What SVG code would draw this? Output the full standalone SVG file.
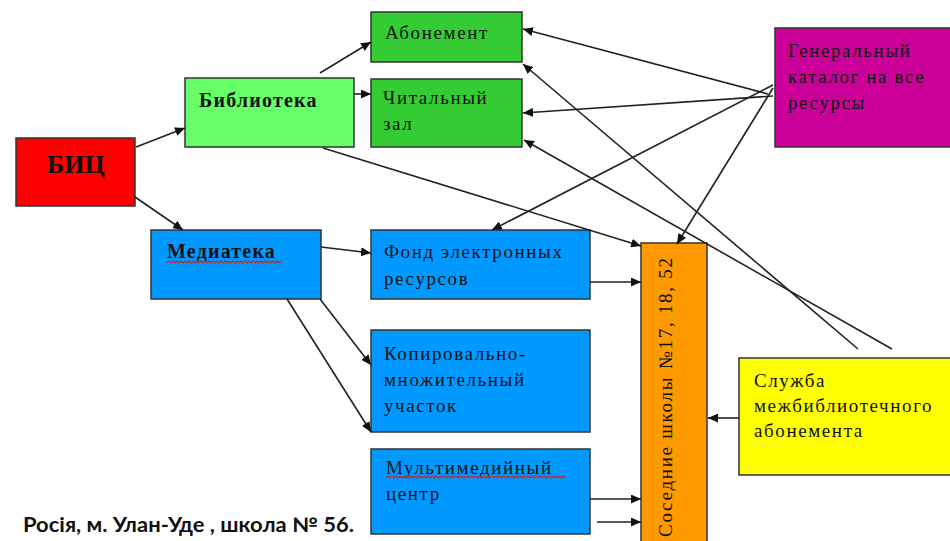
<svg xmlns="http://www.w3.org/2000/svg" width="950" height="541" viewBox="0 0 950 541">
<defs>
<marker id="ah" markerUnits="userSpaceOnUse" markerWidth="11" markerHeight="9" refX="10" refY="4.5" orient="auto">
<path d="M0,0 L10,4.5 L0,9 Z" fill="#111"/>
</marker>
<style>
.box{stroke:#333;stroke-width:1.5}
.t{font-family:"Liberation Serif","Times New Roman",serif;font-size:19px;letter-spacing:1.6px;fill:#111}
.b{font-family:"Liberation Serif","Times New Roman",serif;font-size:20px;font-weight:bold;letter-spacing:1.2px;fill:#111}
.c line{stroke:#222;stroke-width:1.6;marker-end:url(#ah)}
.sq{fill:none;stroke:#d42020;stroke-width:1.2}
</style>
</defs>
<rect width="950" height="541" fill="#fff"/>

<g id="bic"><rect class="box" x="16" y="138" width="119" height="68" fill="#ff0000" stroke="#6a9"/><text x="47" y="173" style="font-family:'Liberation Serif',serif;font-size:26px;font-weight:bold;fill:#111">БИЦ</text></g>

<g id="biblioteka"><rect class="box" x="185" y="78" width="169" height="69" fill="#66ff66"/><text class="b" x="199" y="107">Библиотека</text></g>

<g id="mediateka"><rect class="box" x="151" y="230" width="170" height="69" fill="#0099ff"/><text class="b" x="167" y="258">Медиатека</text><path class="sq" d="M167,263 l2,-2 l2,2 l2,-2 l2,2 l2,-2 l2,2 l2,-2 l2,2 l2,-2 l2,2 l2,-2 l2,2 l2,-2 l2,2 l2,-2 l2,2 l2,-2 l2,2 l2,-2 l2,2 l2,-2 l2,2 l2,-2 l2,2 l2,-2 l2,2 l2,-2 l2,2 l2,-2 l2,2 l2,-2 l2,2 l2,-2 l2,2 l2,-2 l2,2 l2,-2 l2,2 l2,-2 l2,2 l2,-2 l2,2 l2,-2 l2,2 l2,-2 l2,2 l2,-2 l2,2 l2,-2 l2,2 l2,-2 l2,2 l2,-2 l2,2 l2,-2 l2,2 l2,-2"/></g>

<g id="abonement"><rect class="box" x="371" y="12" width="151" height="50" fill="#33cc33"/><text class="t" x="385" y="39">Абонемент</text></g>

<g id="chitalny"><rect class="box" x="371" y="79" width="151" height="68" fill="#33cc33"/><text class="t" x="383" y="104">Читальный</text><text class="t" x="383" y="130">зал</text></g>

<g id="fond"><rect class="box" x="371" y="230" width="219" height="69" fill="#0099ff"/><text class="t" x="384" y="258">Фонд электронных</text><text class="t" x="384" y="285">ресурсов</text></g>

<g id="kopir"><rect class="box" x="371" y="330" width="219" height="102" fill="#0099ff"/><text class="t" x="384" y="360">Копировально-</text><text class="t" x="384" y="386">множительный</text><text class="t" x="384" y="412">участок</text></g>

<g id="multimedia"><rect class="box" x="371" y="449" width="219" height="85" fill="#0099ff"/><text class="t" x="386" y="474">Мультимедийный</text><text class="t" x="386" y="500">центр</text><path class="sq" d="M386,478 l2,-2 l2,2 l2,-2 l2,2 l2,-2 l2,2 l2,-2 l2,2 l2,-2 l2,2 l2,-2 l2,2 l2,-2 l2,2 l2,-2 l2,2 l2,-2 l2,2 l2,-2 l2,2 l2,-2 l2,2 l2,-2 l2,2 l2,-2 l2,2 l2,-2 l2,2 l2,-2 l2,2 l2,-2 l2,2 l2,-2 l2,2 l2,-2 l2,2 l2,-2 l2,2 l2,-2 l2,2 l2,-2 l2,2 l2,-2 l2,2 l2,-2 l2,2 l2,-2 l2,2 l2,-2 l2,2 l2,-2 l2,2 l2,-2 l2,2 l2,-2 l2,2 l2,-2 l2,2 l2,-2 l2,2 l2,-2 l2,2 l2,-2 l2,2 l2,-2 l2,2 l2,-2 l2,2 l2,-2 l2,2 l2,-2 l2,2 l2,-2 l2,2 l2,-2 l2,2 l2,-2 l2,2 l2,-2 l2,2 l2,-2 l2,2 l2,-2 l2,2 l2,-2 l2,2 l2,-2 l2,2 l2,-2 l2,2"/></g>

<g id="sosednie"><rect class="box" x="641" y="243" width="66" height="310" fill="#ff9900"/><text class="t" transform="translate(672,537) rotate(-90)" textLength="279" lengthAdjust="spacing" style="letter-spacing:0">Соседние школы №17, 18, 52</text></g>

<g id="katalog"><rect class="box" x="775" y="28" width="185" height="119" fill="#cc0099"/><text class="t" x="788" y="57">Генеральный</text><text class="t" x="788" y="83">каталог на все</text><text class="t" x="788" y="109">ресурсы</text></g>

<g id="sluzhba"><rect class="box" x="739" y="358" width="221" height="117" fill="#ffff00"/><text class="t" x="754" y="387">Служба</text><text class="t" x="754" y="412">межбиблиотечного</text><text class="t" x="754" y="437">абонемента</text></g>

<g id="connectors" class="c">
<line x1="136" y1="147" x2="185" y2="128"/>
<line x1="135" y1="197" x2="183" y2="230"/>
<line x1="320" y1="73" x2="371" y2="42"/>
<line x1="354" y1="94" x2="371" y2="94"/>
<line x1="323" y1="148" x2="641" y2="246"/>
<line x1="321" y1="247" x2="371" y2="253"/>
<line x1="590" y1="282" x2="641" y2="282"/>
<line x1="320" y1="299" x2="371" y2="365"/>
<line x1="287" y1="299" x2="371" y2="432"/>
<line x1="590" y1="499" x2="641" y2="499"/>
<line x1="597" y1="522" x2="641" y2="522"/>
<line x1="739" y1="418" x2="708" y2="418"/>
<line x1="768" y1="94" x2="523" y2="29"/>
<line x1="773" y1="96" x2="523" y2="113"/>
<line x1="773" y1="85" x2="492" y2="230"/>
<line x1="773" y1="88" x2="677" y2="244"/>
<line x1="858" y1="349" x2="523" y2="64"/>
<line x1="892" y1="349" x2="524" y2="140"/>
</g>

<text x="23" y="532" textLength="331" lengthAdjust="spacingAndGlyphs" style="font-family:Lato,'Liberation Sans',sans-serif;font-size:20px;font-weight:bold;fill:#111">Росія, м. Улан-Уде , школа № 56.</text>
</svg>
